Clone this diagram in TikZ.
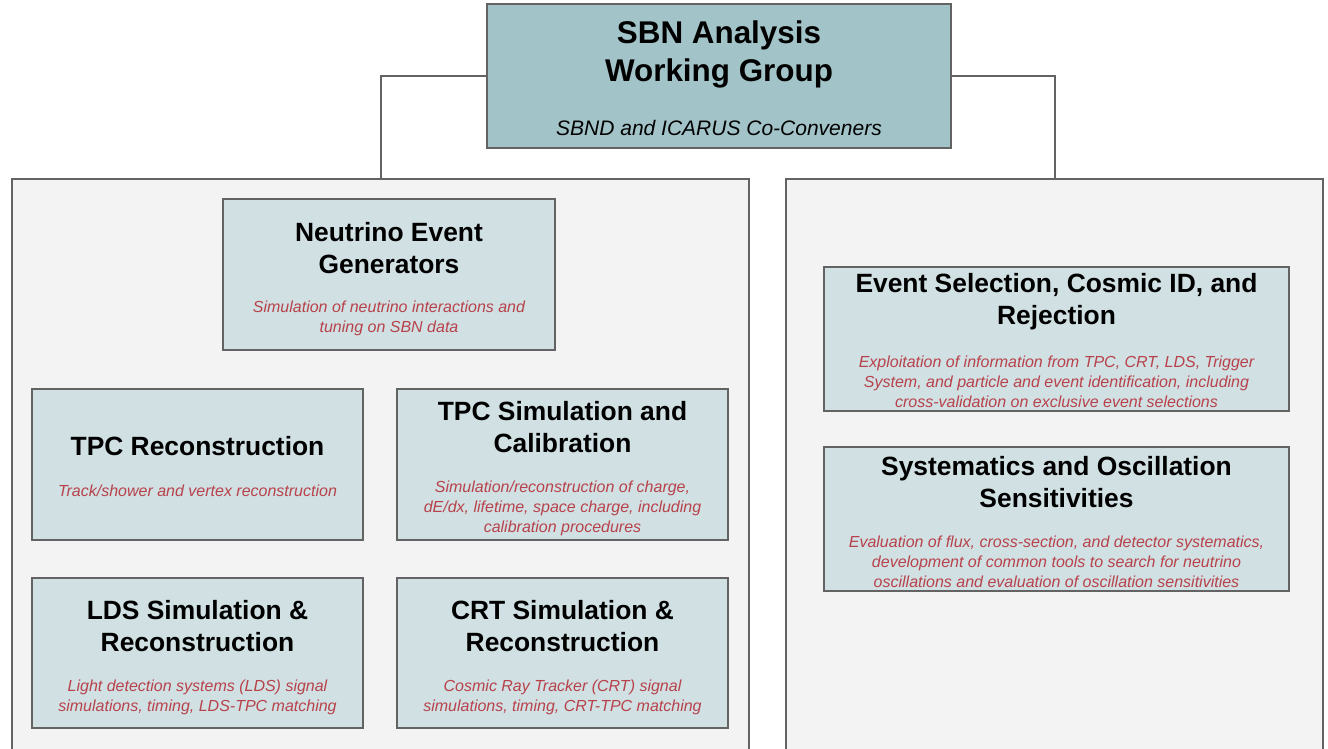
\documentclass[tikz,border=0pt]{standalone}
\usepackage{fontspec}
\setmainfont{Liberation Sans}
\usetikzlibrary{positioning}

\definecolor{headteal}{HTML}{A2C4C9}
\definecolor{unitblue}{HTML}{D0E0E3}
\definecolor{panelgray}{HTML}{F3F3F3}
\definecolor{linegray}{HTML}{636363}
\definecolor{descred}{HTML}{B8424B}

\tikzset{
  panel/.style={draw=linegray, line width=2pt, fill=panelgray, inner sep=0pt, minimum height=600pt},
  unit/.style={draw=linegray, line width=2pt, fill=unitblue, inner sep=0pt},
  unittitle/.style={font=\fontsize{26.4}{32}\selectfont\bfseries, align=center, inner sep=0pt},
  unitdesc/.style={font=\fontsize{16}{20}\selectfont\itshape, text=descred, align=center, inner sep=0pt},
  link/.style={draw=linegray, line width=2pt},
}

\begin{document}
\begin{tikzpicture}[x=1pt, y=-1pt]
\useasboundingbox (0,0) rectangle (1328,749);
\clip (0,0) rectangle (1328,749);

%% the two panels
\node[panel, minimum width=737pt, anchor=north] (leftPanel) at (380.5,178) {};
\node[panel, minimum width=537pt, anchor=north] (rightPanel) at (1054.5,178) {};

%% head box
\node[draw=linegray, line width=2pt, fill=headteal, inner sep=0pt,
      minimum width=464pt, minimum height=144pt] (head) at (719,76) {};
\node[font=\fontsize{31.4}{38}\selectfont\bfseries, align=center, inner sep=0pt] (headTitle) at (719,54) {SBN Analysis\\Working Group};
\node[font=\fontsize{21}{26}\selectfont\itshape, inner sep=0pt] (headSub) at (719,128) {SBND and ICARUS Co-Conveners};

\draw[link] (head.west) -| (leftPanel.north);
\draw[link] (head.east) -| (rightPanel.north);

%% left panel
\node[unit, minimum width=332pt, minimum height=151pt] (nuGen) at (389,274.5) {};
\node[unittitle] (nuGenTitle) at (389,248) {Neutrino Event\\Generators};
\node[unitdesc] (nuGenDesc) at (389,318) {Simulation of neutrino interactions and\\tuning on SBN data};

\node[unit, minimum width=331pt, minimum height=151pt] (tpcReco) at (197.5,464.5) {};
\node[unittitle] (tpcRecoTitle) at (197.5,446) {TPC Reconstruction};
\node[unitdesc] (tpcRecoDesc) at (197.5,491) {Track/shower and vertex reconstruction};

\node[unit, minimum width=331pt, minimum height=151pt] (tpcSim) at (562.5,464.5) {};
\node[unittitle] (tpcSimTitle) at (562.5,427) {TPC Simulation and\\Calibration};
\node[unitdesc] (tpcSimDesc) at (562.5,508) {Simulation/reconstruction of charge,\\dE/dx, lifetime, space charge, including\\calibration procedures};

\node[unit, minimum width=331pt, minimum height=150pt] (ldsSim) at (197.5,653) {};
\node[unittitle] (ldsSimTitle) at (197.5,626) {LDS Simulation \&\\Reconstruction};
\node[unitdesc] (ldsSimDesc) at (197.5,697) {Light detection systems (LDS) signal\\simulations, timing, LDS-TPC matching};

\node[unit, minimum width=331pt, minimum height=150pt] (crtSim) at (562.5,653) {};
\node[unittitle] (crtSimTitle) at (562.5,626) {CRT Simulation \&\\Reconstruction};
\node[unitdesc] (crtSimDesc) at (562.5,697) {Cosmic Ray Tracker (CRT) signal\\simulations, timing, CRT-TPC matching};

%% right panel
\node[unit, minimum width=465pt, minimum height=144pt] (evSel) at (1056.5,339) {};
\node[unittitle] (evSelTitle) at (1056.5,302) {Event Selection, Cosmic ID, and\\Rejection};
\node[unitdesc] (evSelDesc) at (1056.5,382) {Exploitation of information from TPC, CRT, LDS, Trigger\\System, and particle and event identification, including\\cross-validation on exclusive event selections};

\node[unit, minimum width=465pt, minimum height=144pt] (syst) at (1056.5,519) {};
\node[unittitle] (systTitle) at (1056.5,482) {Systematics and Oscillation\\Sensitivities};
\node[unitdesc] (systDesc) at (1056.5,562) {Evaluation of flux, cross-section, and detector systematics,\\development of common tools to search for neutrino\\oscillations and evaluation of oscillation sensitivities};
\end{tikzpicture}
\end{document}
